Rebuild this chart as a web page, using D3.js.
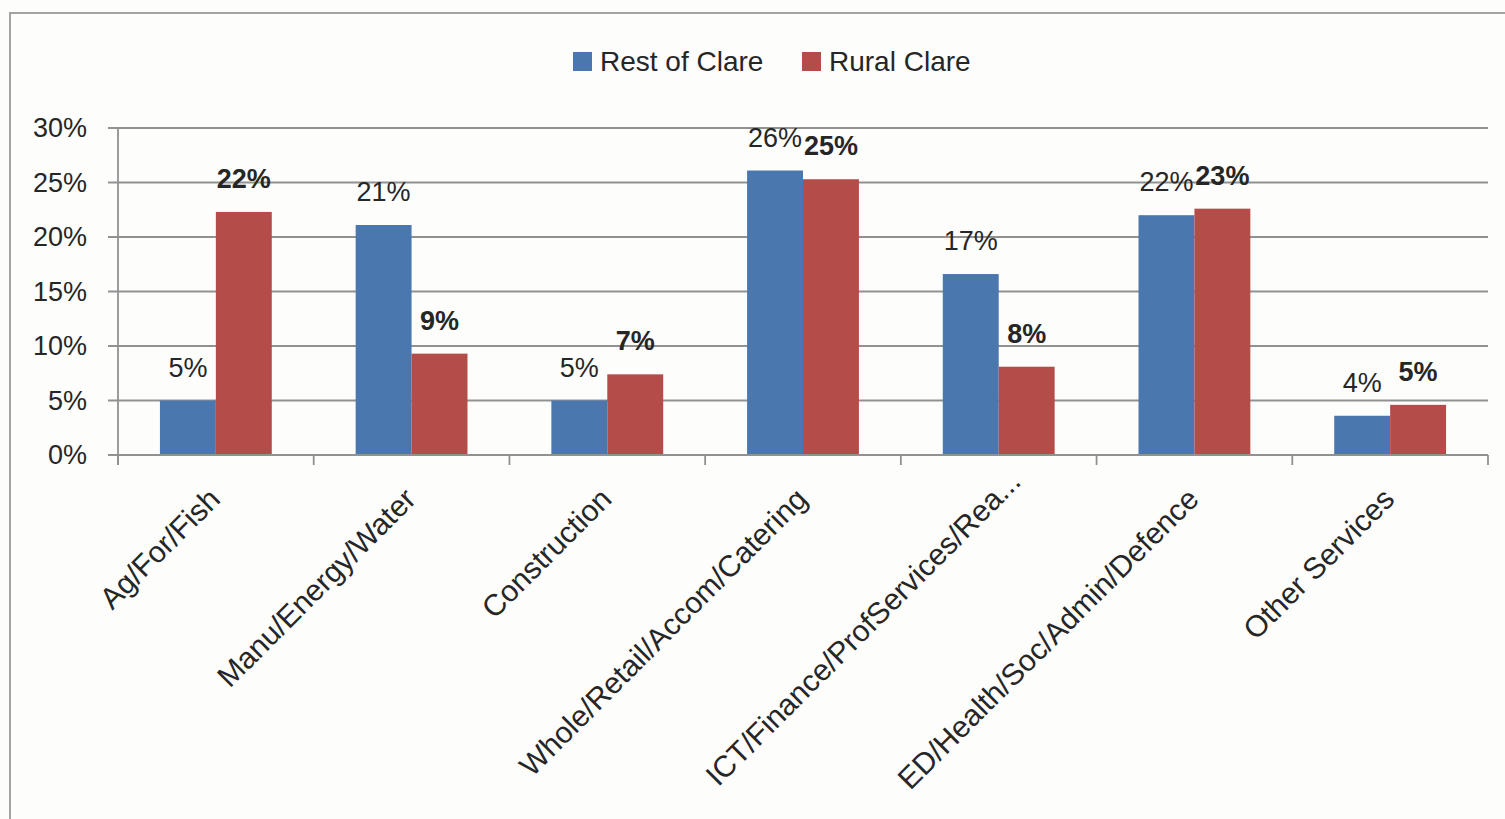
<!DOCTYPE html>
<html>
<head>
<meta charset="utf-8">
<script src="https://cdn.jsdelivr.net/npm/d3@7"></script>
<style>
  html, body { margin: 0; padding: 0; background: #fdfdfc; }
  svg { display: block; }
  text { font-family: "Liberation Sans", Arial, sans-serif; fill: #262626; }
</style>
</head>
<body>
<svg id="chart" width="1505" height="819"></svg>
<script>
const categories = ["Ag/For/Fish", "Manu/Energy/Water", "Construction", "Whole/Retail/Accom/Catering",
  "ICT/Finance/ProfServices/Rea...", "ED/Health/Soc/Admin/Defence", "Other Services"];
const seriesNames = ["Rest of Clare", "Rural Clare"];
const restOfClare = [5.0, 21.1, 5.0, 26.1, 16.6, 22.0, 3.6];
const ruralClare = [22.3, 9.3, 7.4, 25.3, 8.1, 22.6, 4.6];
const yTicks = [0, 5, 10, 15, 20, 25, 30];
const colors = ["#4a77ad", "#b44c4a"];

const svg = d3.select("#chart");
const plot = { left: 118, right: 1488, top: 128, bottom: 455 };

// frame
svg.append("rect").attr("x", 10).attr("y", 13).attr("width", 1520).attr("height", 830)
  .attr("fill", "#fdfdfc").attr("stroke", "#a3a3a3").attr("stroke-width", 2);

const x = d3.scaleBand().domain(categories).range([plot.left, plot.right]).paddingInner(0).paddingOuter(0);
const x1 = d3.scaleBand().domain(seriesNames).range([0, x.bandwidth()]).paddingInner(0).paddingOuter(0.75);
const y = d3.scaleLinear().domain([0, 30]).range([plot.bottom, plot.top]);

// gridlines
svg.append("g").selectAll("line").data(yTicks).join("line")
  .attr("x1", plot.left - 10).attr("x2", plot.right)
  .attr("y1", d => y(d)).attr("y2", d => y(d))
  .attr("stroke", "#919191").attr("stroke-width", 1.8);

// y axis
const yAxis = d3.axisLeft(y).tickValues(yTicks).tickFormat(d => d + "%").tickSize(0).tickPadding(31);
const gy = svg.append("g").attr("transform", `translate(${plot.left},0)`).call(yAxis);
gy.select(".domain").remove();
gy.selectAll("text").style("font-size", "27px").attr("fill", "#262626")
  .style("font-family", '"Liberation Sans", Arial, sans-serif');
svg.append("line").attr("x1", plot.left).attr("x2", plot.left).attr("y1", plot.top).attr("y2", plot.bottom + 10)
  .attr("stroke", "#919191").attr("stroke-width", 1.8);

// x axis ticks at band boundaries
const boundaries = categories.map(c => x(c)).concat([plot.right]);
svg.append("g").selectAll("line").data(boundaries).join("line")
  .attr("x1", d => d).attr("x2", d => d).attr("y1", plot.bottom).attr("y2", plot.bottom + 10)
  .attr("stroke", "#919191").attr("stroke-width", 1.8);

// bars
const rows = categories.map((c, i) => ({ c, vals: [restOfClare[i], ruralClare[i]] }));
const groups = svg.append("g").selectAll("g").data(rows).join("g")
  .attr("transform", d => `translate(${x(d.c)},0)`);
groups.selectAll("rect").data(d => d.vals.map((v, k) => ({ v, k }))).join("rect")
  .attr("x", d => x1(seriesNames[d.k]))
  .attr("width", x1.bandwidth())
  .attr("y", d => y(d.v))
  .attr("height", d => y(0) - y(d.v))
  .attr("fill", d => colors[d.k]);

// value labels
groups.selectAll("text.val").data(d => d.vals.map((v, k) => ({ v, k }))).join("text")
  .attr("class", "val")
  .attr("x", d => x1(seriesNames[d.k]) + x1.bandwidth() / 2)
  .attr("y", d => y(d.v) - 24)
  .attr("text-anchor", "middle")
  .style("font-size", "27px")
  .style("font-weight", d => d.k === 1 ? "bold" : "normal")
  .text(d => Math.round(d.v) + "%");

// x axis line
svg.append("line").attr("x1", plot.left).attr("x2", plot.right).attr("y1", plot.bottom).attr("y2", plot.bottom)
  .attr("stroke", "#919191").attr("stroke-width", 1.8);

// category labels (truncated labels are anchored without their ellipsis)
const catLabels = svg.append("g").selectAll("text").data(categories).join("text")
  .attr("transform", c => `translate(${x(c) + x.bandwidth() / 2 + 6},${plot.bottom + 46}) rotate(-45)`)
  .attr("text-anchor", "end")
  .style("font-size", "30px")
  .text(c => c);
catLabels.each(function (c) {
  if (c.endsWith("...")) {
    const el = d3.select(this);
    const full = this.getComputedTextLength();
    el.text(c.slice(0, -3));
    const base = this.getComputedTextLength();
    el.text(c).attr("dx", full - base);
  }
});

// legend
const legend = svg.append("g");
const legendX = [573, 802];
seriesNames.forEach((s, i) => {
  legend.append("rect").attr("x", legendX[i]).attr("y", 52).attr("width", 19).attr("height", 19).attr("fill", colors[i]);
  legend.append("text").attr("x", legendX[i] + 27).attr("y", 71).style("font-size", "28px").text(s);
});
</script>
</body>
</html>
